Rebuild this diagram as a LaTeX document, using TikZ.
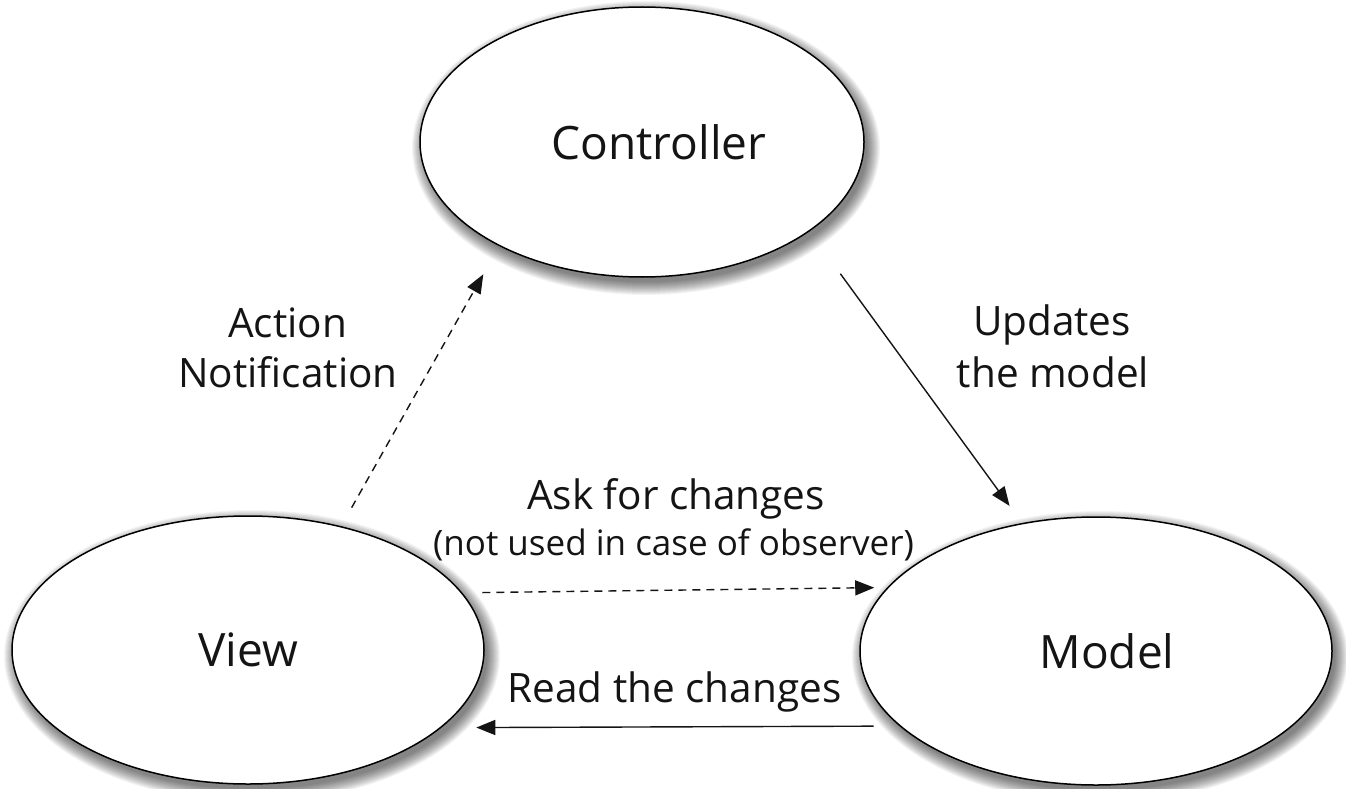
\documentclass[tikz,border=0pt]{standalone}
\usepackage{fontspec}
\setmainfont{Open Sans}
\usetikzlibrary{shapes.geometric,arrows.meta,backgrounds}
\begin{document}
\begin{tikzpicture}[x=1pt,y=-1pt,
  ell/.style={ellipse, draw=black, line width=1.5pt, fill=white, inner sep=0pt, outer sep=0pt,
    font=\fontsize{46}{50}\selectfont, text=black!92},
  lab/.style={font=\fontsize{40.5}{46}\selectfont, text=black!92, inner sep=0pt, anchor=base},
  sublab/.style={lab, font=\fontsize{35}{42}\selectfont},
  conn/.style={line width=1.4pt, draw=black!92, -{Triangle[length=19pt,width=15pt]}},
  dconn/.style={conn, dash pattern=on 8pt off 6pt}]
\useasboundingbox (0,0) rectangle (1346,789);

\node[ell, minimum width=444pt, minimum height=270pt] (ctrl) at (642,142) {\hspace*{34pt}Controller};
\node[ell, minimum width=472pt, minimum height=268pt] (view) at (248,650) {View};
\node[ell, minimum width=472pt, minimum height=268pt] (model) at (1096,651) {\hspace*{22pt}Model};

\begin{scope}[on background layer]
\fill[white] (0,0) rectangle (1346,789);
\foreach \n/\rx/\ry in {ctrl/222/135, view/236/134, model/236/134}{
  \foreach \k in {1,...,14}{
    \fill[black, opacity=0.045] ([shift={(4,6)}]\n.center) ellipse [x radius=\rx+\k-2, y radius=\ry+\k-2];
  }
}
\end{scope}

\draw[dconn, shorten <=22pt, shorten >=33pt] (view.53.5) -- (ctrl.216.9);
\draw[conn, shorten <=53pt, shorten >=22pt] (ctrl.332.4) -- (model.120.3);
\draw[dconn, shorten <=21pt, shorten >=14pt] (view.15.87) -- (model.163.8);
\draw[conn, shorten <=27pt, shorten >=36pt] (model.201) -- (view.338.65);

\node[lab] (act1) at (287.5,337) {Action};
\node[lab] (act2) at (288,387) {Notification};
\node[lab] (upd1) at (1052,335) {Updates};
\node[lab] (upd2) at (1053,387) {the model};
\node[lab] (ask) at (676,509) {Ask for changes};
\node[sublab] (notu) at (673.5,555) {(not used in case of observer)};
\node[lab] (read) at (674.5,702) {Read the changes};
\end{tikzpicture}
\end{document}
